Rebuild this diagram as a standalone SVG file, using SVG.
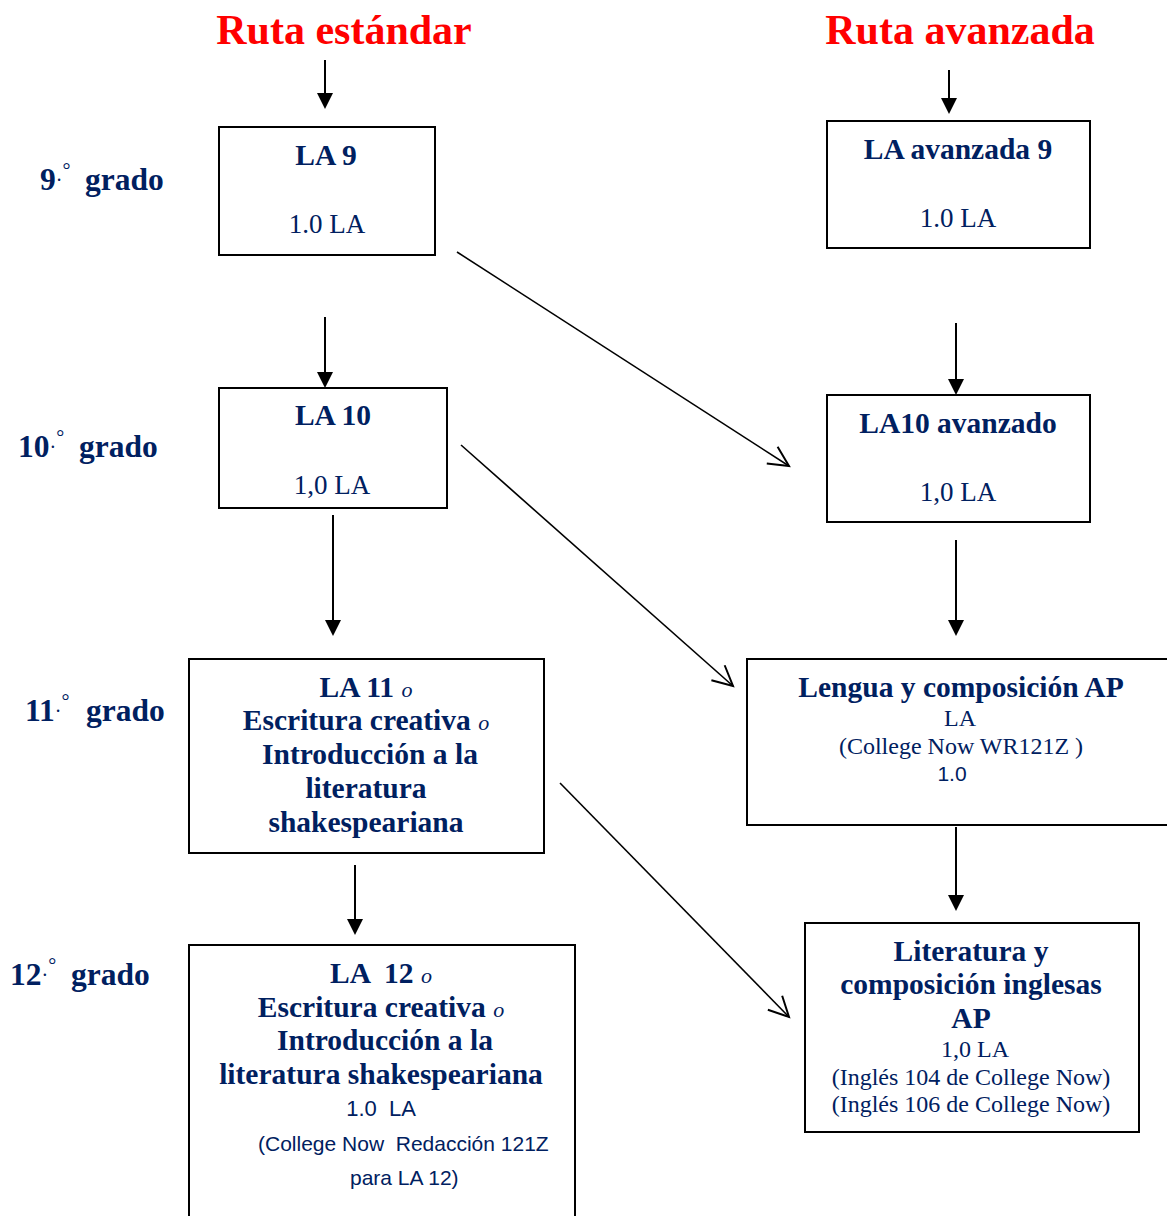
<svg xmlns="http://www.w3.org/2000/svg" width="1167" height="1216" viewBox="0 0 1167 1216">
<defs>
<style>
.box{fill:#fff;stroke:#000;stroke-width:2}
.t{font-family:"Liberation Serif","Times New Roman",serif;fill:#002060;text-anchor:middle}
.b{font-weight:bold;font-size:29.5px}
.n{font-size:24px}
.n2{font-size:27px}
.s{font-family:"Liberation Sans",Arial,sans-serif;fill:#002060;font-size:21px;white-space:pre}
.title{font-family:"Liberation Serif","Times New Roman",serif;font-weight:bold;font-size:42px;fill:#ff0000;text-anchor:middle}
.g{font-family:"Liberation Serif","Times New Roman",serif;font-weight:bold;font-size:31.5px;fill:#002060}
.sup{font-size:20px;font-weight:normal}
.o{font-style:italic;font-weight:normal;font-size:22px}
.v{stroke:#000;stroke-width:2;fill:none}
.d{stroke:#000;stroke-width:1.6;fill:none}
</style>
<marker id="fa" markerUnits="userSpaceOnUse" markerWidth="16" markerHeight="20" refX="14" refY="8" orient="auto">
<path d="M0,0 L16,8 L0,16 Z" fill="#000"/>
</marker>
<marker id="oa" markerUnits="userSpaceOnUse" markerWidth="30" markerHeight="30" refX="22" refY="12" orient="auto">
<path d="M2,2 L22,12 L2,22" fill="none" stroke="#000" stroke-width="2"/>
</marker>
</defs>
<rect width="1167" height="1216" fill="#fff"/>

<g id="titles">
<text class="title" x="344" y="44">Ruta estándar</text>
<text class="title" x="960" y="44">Ruta avanzada</text>
</g>

<g id="grades">
<text class="g" x="40" y="190">9<tspan class="sup" dy="-3">·</tspan><tspan class="sup" dy="-10">°</tspan><tspan x="85" dy="13">grado</tspan></text>
<text class="g" x="18" y="457">10<tspan class="sup" dy="-3">·</tspan><tspan class="sup" dy="-10">°</tspan><tspan x="79" dy="13">grado</tspan></text>
<text class="g" x="25" y="721">11<tspan class="sup" dy="-3">·</tspan><tspan class="sup" dy="-10">°</tspan><tspan x="86" dy="13">grado</tspan></text>
<text class="g" x="10" y="985">12<tspan class="sup" dy="-3">·</tspan><tspan class="sup" dy="-10">°</tspan><tspan x="71" dy="13">grado</tspan></text>
</g>

<g id="connectors">
<line class="v" x1="325" y1="60" x2="325" y2="107" marker-end="url(#fa)"/>
<line class="v" x1="949" y1="70" x2="949" y2="112" marker-end="url(#fa)"/>
<line class="v" x1="325" y1="317" x2="325" y2="386" marker-end="url(#fa)"/>
<line class="v" x1="956" y1="323" x2="956" y2="393" marker-end="url(#fa)"/>
<line class="v" x1="333" y1="515" x2="333" y2="634" marker-end="url(#fa)"/>
<line class="v" x1="956" y1="540" x2="956" y2="634" marker-end="url(#fa)"/>
<line class="v" x1="355" y1="865" x2="355" y2="933" marker-end="url(#fa)"/>
<line class="v" x1="956" y1="827" x2="956" y2="909" marker-end="url(#fa)"/>
<line class="d" x1="457" y1="252" x2="789" y2="466" marker-end="url(#oa)"/>
<line class="d" x1="461" y1="445" x2="733" y2="686" marker-end="url(#oa)"/>
<line class="d" x1="560" y1="783" x2="789" y2="1017" marker-end="url(#oa)"/>
</g>

<g id="la9">
<rect class="box" x="219" y="127" width="216" height="128"/>
<text class="t b" x="326" y="165">LA 9</text>
<text class="t n2" x="327" y="233">1.0 LA</text>
</g>

<g id="la-avanzada-9">
<rect class="box" x="827" y="121" width="263" height="127"/>
<text class="t b" x="958" y="159">LA avanzada 9</text>
<text class="t n2" x="958" y="227">1.0 LA</text>
</g>

<g id="la10">
<rect class="box" x="219" y="388" width="228" height="120"/>
<text class="t b" x="333" y="425">LA 10</text>
<text class="t n2" x="332" y="494">1,0 LA</text>
</g>

<g id="la10-avanzado">
<rect class="box" x="827" y="395" width="263" height="127"/>
<text class="t b" x="958" y="433">LA10 avanzado</text>
<text class="t n2" x="958" y="501">1,0 LA</text>
</g>

<g id="la11">
<rect class="box" x="189" y="659" width="355" height="194"/>
<text class="t b" x="366" y="697">LA 11 <tspan class="o">o</tspan></text>
<text class="t b" x="366" y="730">Escritura creativa <tspan class="o">o</tspan></text>
<text class="t b" x="370" y="764">Introducción a la</text>
<text class="t b" x="366" y="798">literatura</text>
<text class="t b" x="366" y="832">shakespeariana</text>
</g>

<g id="lengua-ap">
<rect class="box" x="747" y="659" width="430" height="166"/>
<text class="t b" x="961" y="697">Lengua y composición AP</text>
<text class="t n" x="960" y="726">LA</text>
<text class="t n" x="961" y="754">(College Now WR121Z )</text>
<text class="s" x="952" y="781" text-anchor="middle">1.0</text>
</g>

<g id="la12">
<rect class="box" x="189" y="945" width="386" height="290"/>
<text class="t b" x="381" y="983" style="white-space:pre">LA  12 <tspan class="o">o</tspan></text>
<text class="t b" x="381" y="1017">Escritura creativa <tspan class="o">o</tspan></text>
<text class="t b" x="385" y="1050">Introducción a la</text>
<text class="t b" x="381" y="1084">literatura shakespeariana</text>
<text class="s" x="381" y="1116" text-anchor="middle" style="font-size:22px">1.0  LA</text>
<text class="s" x="258" y="1151">(College Now  Redacción 121Z</text>
<text class="s" x="350" y="1185">para LA 12)</text>
</g>

<g id="literatura-ap">
<rect class="box" x="805" y="923" width="334" height="209"/>
<text class="t b" x="971" y="961">Literatura y</text>
<text class="t b" x="971" y="994">composición inglesas</text>
<text class="t b" x="971" y="1028">AP</text>
<text class="t n" x="975" y="1057">1,0 LA</text>
<text class="t n" x="971" y="1085">(Inglés 104 de College Now)</text>
<text class="t n" x="971" y="1112">(Inglés 106 de College Now)</text>
</g>
</svg>
